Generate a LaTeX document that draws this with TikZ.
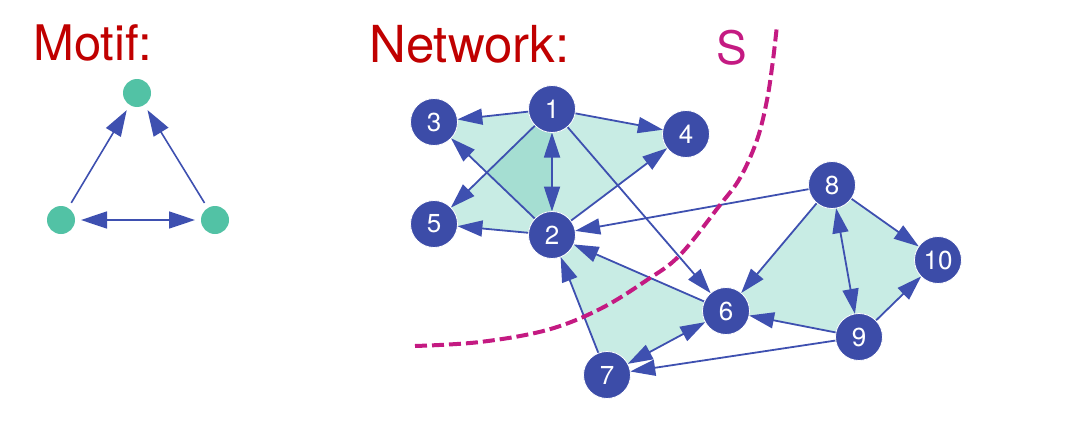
\documentclass[tikz,border=0pt]{standalone}
\usepackage{fontspec}
\setmainfont{TeX Gyre Heros}
\usetikzlibrary{arrows.meta}
\definecolor{nodeblue}{RGB}{60,76,168}
\definecolor{edgeblue}{RGB}{62,80,176}
\definecolor{lightteal}{RGB}{200,236,228}
\definecolor{darkteal}{RGB}{165,222,210}
\definecolor{motifgreen}{RGB}{82,194,165}
\definecolor{titlered}{RGB}{192,0,0}
\definecolor{smag}{RGB}{196,26,130}
\pgfdeclarelayer{bg}
\pgfdeclarelayer{mid}
\pgfsetlayers{bg,mid,main}
\tikzset{
  nd/.style={circle, fill=nodeblue, draw=white, line width=0.8pt, minimum size=47pt, inner sep=0pt, outer sep=0pt, text=white, font=\fontsize{26}{26}\selectfont},
  ed/.style={draw=edgeblue, line width=1.8pt, -{Triangle[length=25pt,width=16pt]}},
  bi/.style={draw=edgeblue, line width=1.8pt, {Triangle[length=25pt,width=16pt]}-{Triangle[length=25pt,width=16pt]}},
  mn/.style={circle, fill=motifgreen, minimum size=28pt, inner sep=0pt, outer sep=0pt},
  me/.style={draw=edgeblue, line width=1.6pt, -{Triangle[length=26pt,width=17pt]}, shorten >=6pt, shorten <=6pt},
  mbi/.style={draw=edgeblue, line width=1.6pt, {Triangle[length=26pt,width=17pt]}-{Triangle[length=26pt,width=17pt]}, shorten >=6pt, shorten <=6pt},
  title/.style={anchor=base west, inner sep=0pt, text=titlered},
  sdash/.style={draw=smag, line width=4pt, dash pattern=on 12pt off 5pt},
}
\begin{document}
\begin{tikzpicture}[x=1pt, y=-1pt]
\useasboundingbox (0,0) rectangle (1081,439);
% titles
\node[title, font=\fontsize{49}{49}\selectfont] (tm) at (33,60) {Motif:};
\node[title, font=\fontsize{51}{51}\selectfont] (tn) at (369,62) {Network:};
\node[anchor=base west, inner sep=0pt, text=smag, font=\fontsize{46}{46}\selectfont] (ts) at (716,64) {S};
% motif
\node[mn] (ma) at (137,93) {};
\node[mn] (mb) at (61,220) {};
\node[mn] (mc) at (215,220) {};
\draw[me] (mb) -- (ma);
\draw[me] (mc) -- (ma);
\draw[mbi] (mb) -- (mc);
% network nodes
\node[nd] (n1) at (552,109) {1};
\node[nd] (n2) at (552,235) {2};
\node[nd] (n3) at (434,122) {3};
\node[nd] (n4) at (686,134) {4};
\node[nd] (n5) at (434,224) {5};
\node[nd] (n6) at (726,311) {6};
\node[nd] (n7) at (607,375) {7};
\node[nd] (n8) at (832,185) {8};
\node[nd] (n9) at (859,337) {9};
\node[nd] (n10) at (938,260) {10};
% motif instances
\begin{pgfonlayer}{bg}
\fill[lightteal] (n1.center) -- (n2.center) -- (n3.center) -- cycle;
\fill[lightteal] (n1.center) -- (n2.center) -- (n4.center) -- cycle;
\fill[lightteal] (n1.center) -- (n2.center) -- (n5.center) -- cycle;
\fill[lightteal] (n6.center) -- (n7.center) -- (n2.center) -- cycle;
\fill[lightteal] (n8.center) -- (n9.center) -- (n6.center) -- cycle;
\fill[lightteal] (n8.center) -- (n9.center) -- (n10.center) -- cycle;
\fill[darkteal] (n1.center) -- (intersection of n1.center--n5.center and n2.center--n3.center) -- (n2.center) -- cycle;
\end{pgfonlayer}
% edges
\begin{pgfonlayer}{mid}
\draw[ed] (n1) -- (n3);
\draw[ed] (n1) -- (n4);
\draw[bi] (n1) -- (n2);
\draw[ed] (n1) -- (n5);
\draw[ed] (n1) -- (n6);
\draw[ed] (n2) -- (n3);
\draw[ed] (n2) -- (n4);
\draw[ed] (n2) -- (n5);
\draw[ed] (n8) -- (n2);
\draw[ed] (n6) -- (n2);
\draw[ed] (n7) -- (n2);
\draw[bi] (n6) -- (n7);
\draw[ed] (n9) -- (n6);
\draw[ed] (n9) -- (n7);
\draw[ed] (n8) -- (n6);
\draw[bi] (n8) -- (n9);
\draw[ed] (n8) -- (n10);
\draw[ed] (n9) -- (n10);
\draw[sdash] plot[smooth, tension=0.6] coordinates {(415,346) (480,342) (547,330) (600,309) (647,280) (680,255) (720,205) (740,178) (757,140) (767,100) (773,60) (777,25)};
\end{pgfonlayer}
\end{tikzpicture}
\end{document}
